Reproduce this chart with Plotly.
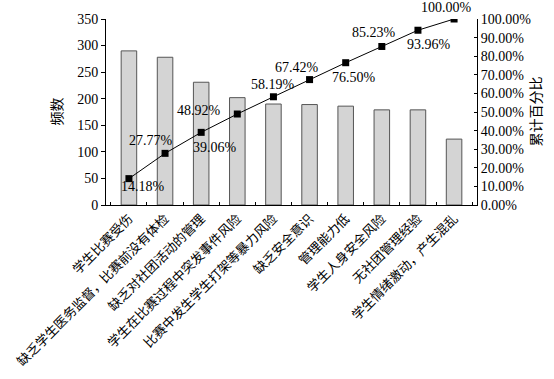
import plotly.graph_objects as go

categories = ["学生比赛受伤", "缺乏学生医务监督，比赛前没有体检", "缺乏对社团活动的管理",
              "学生在比赛过程中突发事件风险", "比赛中发生学生打架等暴力风险", "缺乏安全意识",
              "管理能力低", "学生人身安全风险", "无社团管理经验", "学生情绪激动，产生混乱"]
counts = [290, 278, 231, 202, 190, 189, 186, 179, 179, 124]
cum_pct = [0.1418, 0.2777, 0.3906, 0.4892, 0.5819, 0.6742, 0.7650, 0.8523, 0.9396, 1.0000]
cum_labels = ["14.18%", "27.77%", "39.06%", "48.92%", "58.19%", "67.42%", "76.50%", "85.23%", "93.96%", "100.00%"]
label_dx = [14, -14, 14, -38, 0, -13, 8, -8, 11, -8]
label_dy = [-8, 13, -15, 4, 12, 12, -15, 14, -14, 12]

FONT = "Liberation Serif, Times New Roman, Noto Sans CJK SC"

fig = go.Figure()
fig.add_trace(go.Bar(x=categories, y=counts, width=0.43,
                     marker=dict(color="#d4d4d4", line=dict(color="#555555", width=1)),
                     showlegend=False))
fig.add_trace(go.Scatter(x=categories, y=cum_pct, yaxis="y2", mode="lines+markers",
                         line=dict(color="black", width=1),
                         marker=dict(symbol="square", size=7, color="black"),
                         showlegend=False))

for c, p, t, dx, dy in zip(categories, cum_pct, cum_labels, label_dx, label_dy):
    fig.add_annotation(x=c, y=p, xref="x", yref="y2", text=t, showarrow=False,
                       xshift=dx, yshift=dy, font=dict(size=14, color="black", family=FONT))

fig.add_annotation(x=0, y=0.5, xref="paper", yref="paper", text="频数", textangle=-90,
                   showarrow=False, xshift=-59, font=dict(size=14, color="black", family=FONT))
fig.add_annotation(x=1, y=0.5, xref="paper", yref="paper", text="累计百分比", textangle=-90,
                   showarrow=False, xshift=68, font=dict(size=14, color="black", family=FONT))

fig.update_layout(
    width=554, height=379,
    margin=dict(l=106, r=77, t=19, b=174),
    plot_bgcolor="white", paper_bgcolor="white",
    font=dict(family=FONT, size=14, color="black"),
    bargap=0.57,
    xaxis=dict(type="category", tickangle=-45, showline=True, linecolor="black", linewidth=1,
               ticks="inside", ticklen=3, tickcolor="black", tickson="boundaries",
               showgrid=False, automargin=False,
               tickfont=dict(size=13, family="Noto Sans CJK SC")),
    yaxis=dict(range=[0, 350], dtick=50, showline=True, linecolor="black", linewidth=1,
               ticks="outside", ticklen=4, tickcolor="black", showgrid=False, zeroline=False,
               automargin=False),
    yaxis2=dict(range=[0, 1], dtick=0.1, tickformat=".2%", overlaying="y", side="right",
                showline=True, linecolor="black", linewidth=1, ticks="inside", ticklen=3,
                tickcolor="black", showgrid=False, zeroline=False, automargin=False),
)

fig.write_html("out.html", config={"displayModeBar": False},
               post_script="document.body.style.margin='0';document.body.style.overflow='hidden';")
